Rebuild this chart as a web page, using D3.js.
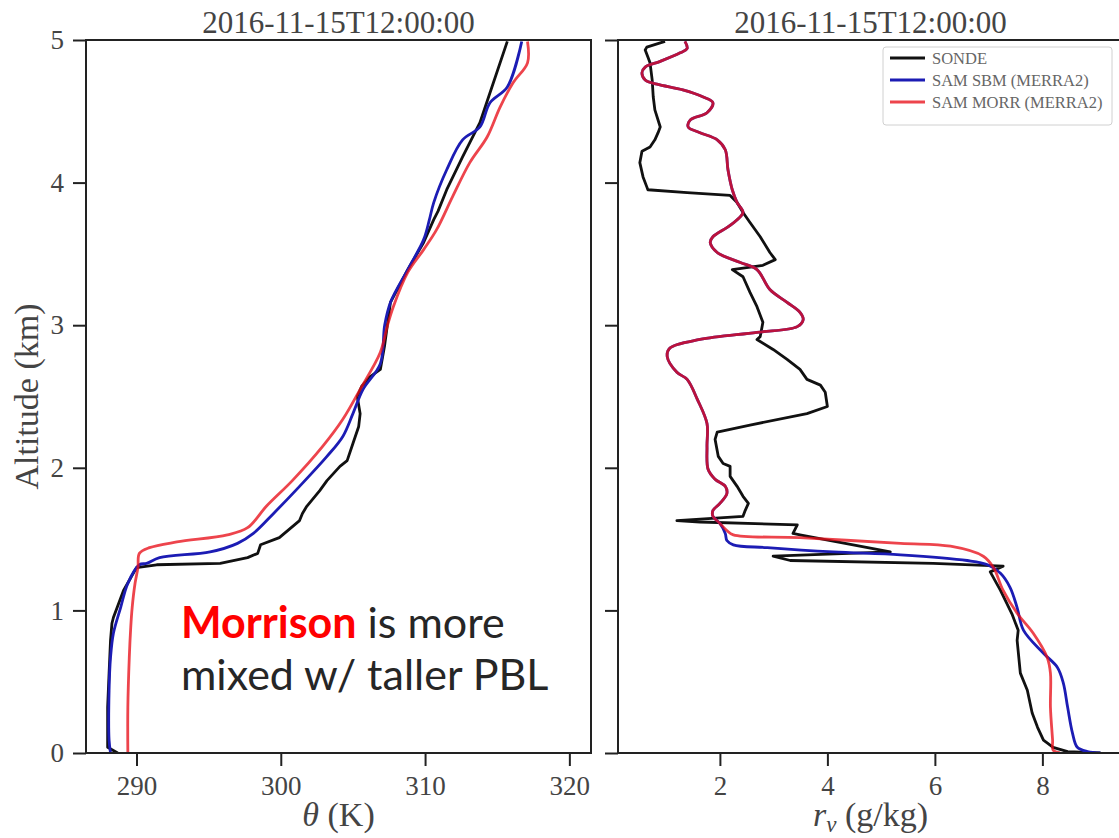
<!DOCTYPE html>
<html lang="en">
  <head>
    <meta charset="UTF-8" />
    <script src="https://d3js.org/d3.v7.min.js"></script>
    <title>Sounding vs SAM profiles</title>
    <style>
      body {
        margin: 0;
        background: #fff;
      }
      svg text {
        font-family: "Liberation Serif", "Times New Roman", serif;
        fill: #444;
      }
      .tick line {
        stroke: #222;
        stroke-width: 2;
      }
      .tick text {
        font-size: 27px;
      }
      .note {
        font-family: Lato, "Open Sans", sans-serif;
        font-size: 43px;
      }
    </style>
  </head>
  <body>
    <svg id="chart" width="1119" height="838"></svg>
    <script>
      const timeLabel = "2016-11-15T12:00:00";
      const altTicks = [0, 1, 2, 3, 4, 5];
      const thetaTicks = [290, 300, 310, 320];
      const rvTicks = [2, 4, 6, 8];
      const seriesNames = ["SONDE", "SAM SBM (MERRA2)", "SAM MORR (MERRA2)"];

      // potential temperature profiles, [theta (K), altitude (km)]
      const thetaSonde = [
        [288.7, 0.0], [288.0, 0.04], [288.0, 0.32], [288.1, 0.56], [288.2, 0.79],
        [288.3, 0.91], [288.4, 0.95], [289.1, 1.14], [290.0, 1.30], [291.4, 1.32],
        [295.8, 1.33], [297.7, 1.37], [298.4, 1.40], [298.6, 1.46], [299.9, 1.51],
        [301.3, 1.63], [301.5, 1.68], [301.8, 1.73], [302.7, 1.84], [303.2, 1.91],
        [304.1, 2.01], [304.6, 2.05], [305.0, 2.17], [305.4, 2.29], [305.5, 2.38],
        [305.3, 2.50], [305.6, 2.57], [306.2, 2.64], [306.9, 2.69], [307.2, 2.86],
        [307.6, 3.16], [308.8, 3.39], [309.9, 3.58], [310.6, 3.74], [310.9, 3.80],
        [311.5, 3.95], [312.6, 4.18], [313.8, 4.42], [314.5, 4.63], [315.7, 4.99]
      ];
      const thetaSbm = [
        [288.2, 0.0], [288.1, 0.09], [288.1, 0.44], [288.2, 0.67], [288.4, 0.84],
        [288.9, 1.02], [289.4, 1.19], [290.2, 1.32], [290.7, 1.33], [291.6, 1.37],
        [295.1, 1.41], [297.0, 1.47], [298.1, 1.54], [299.5, 1.68], [301.3, 1.87],
        [303.2, 2.08], [304.3, 2.22], [305.0, 2.38], [305.7, 2.55], [306.9, 2.73],
        [307.2, 3.00], [307.6, 3.16], [308.8, 3.39], [309.9, 3.60], [310.3, 3.74],
        [310.6, 3.86], [311.5, 4.09], [312.6, 4.30], [313.8, 4.39], [314.5, 4.56],
        [315.7, 4.67], [316.7, 4.99]
      ];
      const thetaMorr = [
        [289.4, 0.0], [289.4, 0.32], [289.5, 0.67], [289.6, 0.88], [289.7, 1.02],
        [289.9, 1.19], [290.1, 1.30], [290.2, 1.40], [290.9, 1.44], [292.8, 1.48],
        [296.3, 1.53], [297.7, 1.58], [299.0, 1.73], [300.8, 1.91], [302.9, 2.15],
        [304.3, 2.34], [305.5, 2.55], [306.9, 2.81], [307.4, 3.00], [307.8, 3.13],
        [308.8, 3.37], [309.9, 3.53], [310.8, 3.67], [311.9, 3.90], [313.1, 4.14],
        [314.3, 4.32], [315.2, 4.53], [316.1, 4.70], [317.1, 4.84], [317.1, 4.99]
      ];

      // water vapour mixing ratio profiles, [r_v (g/kg), altitude (km)]
      const rvSonde = [
        [0.98, 4.99], [0.89, 4.98], [0.64, 4.95], [0.61, 4.93], [0.66, 4.88],
        [0.70, 4.84], [0.74, 4.72], [0.76, 4.60], [0.79, 4.51], [0.89, 4.39],
        [0.85, 4.35], [0.79, 4.30], [0.70, 4.25], [0.55, 4.22], [0.51, 4.14],
        [0.57, 4.04], [0.64, 3.97], [0.66, 3.95], [1.39, 3.93], [2.19, 3.91],
        [2.32, 3.86], [2.43, 3.79], [2.56, 3.72], [2.75, 3.62], [2.93, 3.51],
        [3.03, 3.46], [2.80, 3.42], [2.23, 3.39], [2.43, 3.34], [2.56, 3.23],
        [2.69, 3.13], [2.80, 3.02], [2.75, 2.92], [2.69, 2.90], [2.99, 2.83],
        [3.25, 2.76], [3.49, 2.69], [3.62, 2.62], [3.87, 2.58], [3.96, 2.53],
        [4.00, 2.43], [3.62, 2.38], [2.56, 2.30], [1.95, 2.25], [1.91, 2.20],
        [1.97, 2.08], [2.06, 2.03], [2.19, 2.01], [2.19, 1.94], [2.32, 1.87],
        [2.43, 1.80], [2.53, 1.75], [2.47, 1.70], [2.43, 1.66], [1.20, 1.63],
        [1.63, 1.62], [3.44, 1.60], [3.36, 1.54], [3.49, 1.53], [5.17, 1.41],
        [2.99, 1.38], [3.31, 1.35], [5.97, 1.33], [7.27, 1.31], [7.03, 1.27],
        [7.22, 1.14], [7.44, 0.97], [7.55, 0.86], [7.53, 0.79], [7.59, 0.56],
        [7.72, 0.44], [7.81, 0.28], [7.91, 0.18], [8.02, 0.09], [8.20, 0.04],
        [8.47, 0.01], [9.08, 0.0]
      ];
      const rvSbm = [
        [1.35, 4.99], [1.39, 4.94], [1.26, 4.91], [0.89, 4.85], [0.61, 4.81],
        [0.55, 4.77], [0.61, 4.72], [0.83, 4.69], [1.31, 4.65], [1.69, 4.60],
        [1.87, 4.56], [1.76, 4.49], [1.45, 4.44], [1.41, 4.39], [1.63, 4.35],
        [1.95, 4.30], [2.10, 4.23], [2.15, 4.09], [2.23, 3.95], [2.32, 3.86],
        [2.43, 3.79], [2.19, 3.70], [1.87, 3.62], [1.82, 3.58], [1.95, 3.51],
        [2.38, 3.44], [2.69, 3.39], [2.93, 3.25], [3.25, 3.16], [3.49, 3.09],
        [3.55, 3.04], [3.44, 2.99], [2.69, 2.95], [1.63, 2.90], [1.07, 2.84],
        [1.02, 2.78], [1.20, 2.67], [1.39, 2.62], [1.58, 2.48], [1.76, 2.31],
        [1.76, 2.15], [1.78, 1.99], [1.91, 1.92], [2.10, 1.87], [2.13, 1.82],
        [2.00, 1.75], [1.87, 1.70], [1.87, 1.66], [2.00, 1.61], [2.10, 1.54],
        [2.13, 1.49], [2.25, 1.46], [2.88, 1.44], [4.11, 1.41], [5.36, 1.39],
        [6.60, 1.35], [6.98, 1.32], [7.22, 1.26], [7.40, 1.16], [7.53, 1.02],
        [7.65, 0.86], [8.02, 0.70], [8.28, 0.60], [8.39, 0.49], [8.47, 0.32],
        [8.56, 0.14], [8.65, 0.04], [8.84, 0.01], [9.08, 0.0]
      ];
      const rvMorr = [
        [1.35, 4.99], [1.39, 4.94], [1.26, 4.91], [0.89, 4.85], [0.61, 4.81],
        [0.55, 4.77], [0.61, 4.72], [0.83, 4.69], [1.31, 4.65], [1.69, 4.60],
        [1.87, 4.56], [1.76, 4.49], [1.45, 4.44], [1.41, 4.39], [1.63, 4.35],
        [1.95, 4.30], [2.10, 4.23], [2.15, 4.09], [2.23, 3.95], [2.32, 3.86],
        [2.43, 3.79], [2.19, 3.70], [1.87, 3.62], [1.82, 3.58], [1.95, 3.51],
        [2.38, 3.44], [2.69, 3.39], [2.93, 3.25], [3.25, 3.16], [3.49, 3.09],
        [3.55, 3.04], [3.44, 2.99], [2.69, 2.95], [1.63, 2.90], [1.07, 2.84],
        [1.02, 2.78], [1.20, 2.67], [1.39, 2.62], [1.58, 2.48], [1.76, 2.31],
        [1.76, 2.15], [1.78, 1.99], [1.91, 1.92], [2.10, 1.87], [2.13, 1.82],
        [2.00, 1.75], [1.87, 1.70], [1.87, 1.66], [2.00, 1.61], [2.13, 1.56],
        [2.25, 1.53], [3.49, 1.51], [5.36, 1.47], [6.29, 1.45], [6.90, 1.38],
        [7.09, 1.30], [7.27, 1.14], [7.53, 0.98], [7.83, 0.84], [8.09, 0.67],
        [8.15, 0.56], [8.15, 0.32], [8.19, 0.09], [8.20, 0.02], [8.33, 0.0]
      ];

      const colors = ["#111111", "#1c1cb4", "#e8101a"];

      const svg = d3.select("#chart");
      const plotTop = 40, plotBottom = 753;
      const leftPanel = { x0: 86, x1: 591 };
      const rightPanel = { x0: 618, x1: 1123 };

      const y = d3.scaleLinear().domain([0, 5]).range([plotBottom, plotTop]);
      const xTheta = d3.scaleLinear().domain([286.5, 321.5]).range([leftPanel.x0, leftPanel.x1]);
      const xRv = d3.scaleLinear().domain([0.104, 9.5]).range([rightPanel.x0, rightPanel.x1]);

      function panel(id, x, xTicks, showY, series, xLabel) {
        const g = svg.append("g").attr("class", id);
        const [x0, x1] = x.range();

        g.append("clipPath")
          .attr("id", id + "-clip")
          .append("rect")
          .attr("x", x0)
          .attr("y", plotTop)
          .attr("width", x1 - x0)
          .attr("height", plotBottom - plotTop);

        // profiles: sonde is jagged, model output is smooth
        const lines = g.append("g").attr("clip-path", `url(#${id}-clip)`);
        series.forEach((s, i) => {
          const line = d3
            .line()
            .x(d => x(d[0]))
            .y(d => y(d[1]))
            .curve(i === 0 ? d3.curveLinear : d3.curveCatmullRom.alpha(0.5));
          lines
            .append("path")
            .datum(s)
            .attr("fill", "none")
            .attr("stroke", colors[i])
            .attr("stroke-opacity", i === 2 ? 0.78 : 1)
            .attr("stroke-width", 2.8)
            .attr("stroke-linejoin", "round")
            .attr("d", line);
        });

        // axes
        g.append("g")
          .attr("transform", `translate(0,${plotBottom})`)
          .call(d3.axisBottom(x).tickValues(xTicks).tickSize(13).tickPadding(10))
          .call(a => a.select(".domain").remove());

        g.append("g")
          .attr("transform", `translate(${x0},0)`)
          .call(
            d3
              .axisLeft(y)
              .tickValues(altTicks)
              .tickSize(13)
              .tickPadding(9)
              .tickFormat(showY ? d3.format("d") : () => "")
          )
          .call(a => a.select(".domain").remove());

        // frame
        g.append("rect")
          .attr("x", x0)
          .attr("y", plotTop)
          .attr("width", x1 - x0)
          .attr("height", plotBottom - plotTop)
          .attr("fill", "none")
          .attr("stroke", "#222")
          .attr("stroke-width", 2);

        g.append("text")
          .attr("x", (x0 + x1) / 2)
          .attr("y", 33)
          .attr("text-anchor", "middle")
          .style("font-size", "31px")
          .text(timeLabel);

        const lab = g
          .append("text")
          .attr("x", (x0 + x1) / 2)
          .attr("y", 826)
          .attr("text-anchor", "middle")
          .style("font-size", "34px");
        xLabel(lab);
      }

      panel("theta", xTheta, thetaTicks, true, [thetaSonde, thetaSbm, thetaMorr], t => {
        t.append("tspan").style("font-style", "italic").text("θ");
        t.append("tspan").text(" (K)");
      });

      panel("rv", xRv, rvTicks, false, [rvSonde, rvSbm, rvMorr], t => {
        t.append("tspan").style("font-style", "italic").text("r");
        t.append("tspan")
          .style("font-style", "italic")
          .style("font-size", "23px")
          .attr("dy", 6)
          .text("v");
        t.append("tspan").attr("dy", -6).text(" (g/kg)");
      });

      svg
        .append("text")
        .attr("transform", `translate(38,${(plotTop + plotBottom) / 2}) rotate(-90)`)
        .attr("text-anchor", "middle")
        .style("font-size", "34px")
        .text("Altitude (km)");

      // legend
      const leg = svg.append("g").attr("transform", "translate(883,47)");
      leg.append("rect")
        .attr("width", 229)
        .attr("height", 78)
        .attr("rx", 3)
        .attr("fill", "#fff")
        .attr("stroke", "#d0d0d0");
      seriesNames.forEach((name, i) => {
        const row = leg.append("g").attr("transform", `translate(0,${11 + i * 22})`);
        row.append("line")
          .attr("x1", 7)
          .attr("x2", 42)
          .attr("stroke", colors[i])
          .attr("stroke-opacity", i === 2 ? 0.78 : 1)
          .attr("stroke-width", 2.8);
        row.append("text")
          .attr("x", 49)
          .attr("dy", "0.35em")
          .style("font-size", "16.5px")
          .style("fill", "#666")
          .text(name);
      });

      // annotation
      const note = svg.append("text").attr("class", "note").attr("x", 181).attr("y", 638);
      note.append("tspan").style("fill", "#ff0000").style("font-weight", "bold").text("Morrison");
      note.append("tspan").style("fill", "#262626").text(" is more");
      svg
        .append("text")
        .attr("class", "note")
        .attr("x", 181)
        .attr("y", 690)
        .style("fill", "#262626")
        .text("mixed w/ taller PBL");
    </script>
  </body>
</html>
